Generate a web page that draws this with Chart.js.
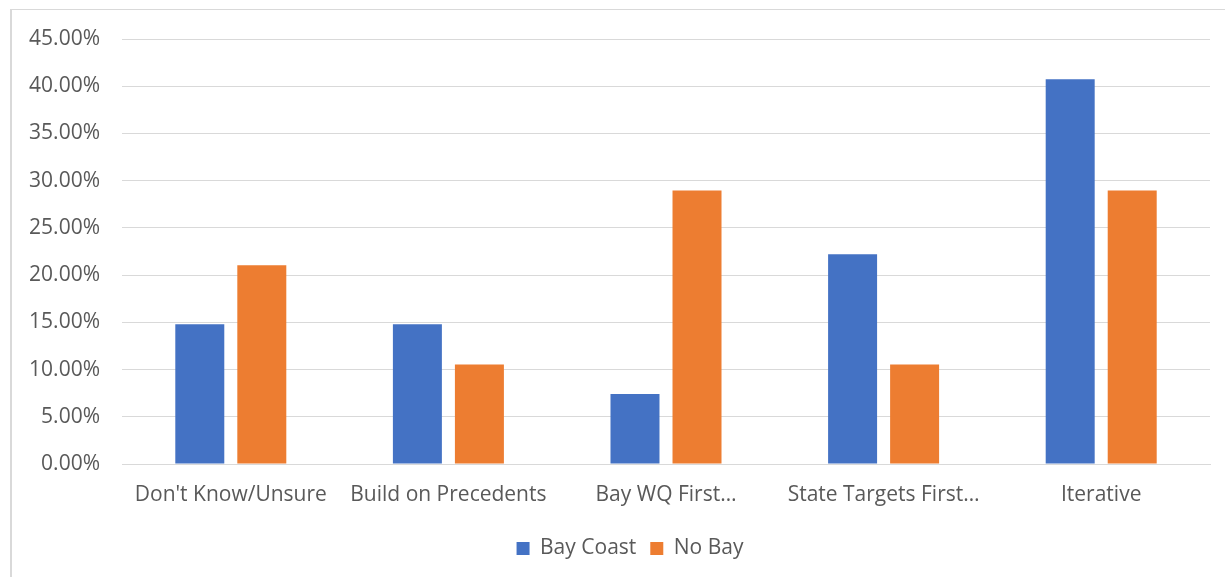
<!DOCTYPE html>
<html>
<head>
<meta charset="utf-8">
<script src="https://cdn.jsdelivr.net/npm/chart.js@4"></script>
<style>
  html, body { margin: 0; padding: 0; background: #fff; overflow: hidden; }
  #frame {
    position: absolute; left: 10px; top: 9px;
    width: 1300px; height: 700px;
    border-left: 2px solid #d9d9d9; border-top: 1px solid #d9d9d9;
  }
  #wrap { position: absolute; left: 10px; top: 10px; width: 1215px; height: 567px; }
</style>
</head>
<body>
<div id="frame"></div>
<div id="wrap"><canvas id="chart"></canvas></div>
<script>
// Categories and series (shares of respondents)
const categories = ["Don't Know/Unsure", 'Build on Precedents', 'Bay WQ First…', 'State Targets First…', 'Iterative'];
const bayCoast = [14.81, 14.81, 7.41, 22.22, 40.74];
const noBay = [21.05, 10.53, 28.95, 10.53, 28.95];
const yMax = 45;
const yStep = 5;

const textColor = '#595959';
const gridColor = '#d9d9d9';
const fontFamily = "'Open Sans', 'Liberation Sans', sans-serif";

// nudge the legend a little to the right of centre
const legendShift = {
  id: 'legendShift',
  afterLayout(chart) {
    const lg = chart.legend;
    if (!lg) return;
    lg.left += 20;
    lg.right += 20;
  }
};

const ctx = document.getElementById('chart').getContext('2d');
new Chart(ctx, {
  type: 'bar',
  data: {
    labels: categories,
    datasets: [
      { label: 'Bay Coast', data: bayCoast, backgroundColor: '#4472c4',
        categoryPercentage: 0.57, barPercentage: 0.79 },
      { label: 'No Bay', data: noBay, backgroundColor: '#ed7d31',
        categoryPercentage: 0.57, barPercentage: 0.79 }
    ]
  },
  plugins: [legendShift],
  options: {
    responsive: true,
    maintainAspectRatio: false,
    animation: false,
    layout: { padding: { top: 29, right: 15, left: 0, bottom: 8 } },
    plugins: {
      legend: {
        position: 'bottom',
        labels: {
          color: textColor,
          font: { family: fontFamily, size: 21 },
          boxWidth: 13, boxHeight: 13,
          padding: 14
        }
      },
      tooltip: { enabled: false }
    },
    scales: {
      x: {
        grid: { display: false, drawTicks: false },
        border: { color: gridColor },
        ticks: {
          color: textColor,
          font: { family: fontFamily, size: 21 },
          maxRotation: 0, autoSkip: false, padding: 18
        },
        afterFit: (scale) => { scale.height = 60; }
      },
      y: {
        min: 0, max: yMax,
        // invisible tick marks keep the labels clear of the plot
        grid: { color: gridColor, drawTicks: true, tickLength: 20, tickColor: 'rgba(0,0,0,0)' },
        border: { display: false },
        ticks: {
          stepSize: yStep,
          color: textColor,
          font: { family: fontFamily, size: 21 },
          padding: 2,
          callback: (v) => v.toFixed(2) + '%'
        },
        afterFit: (scale) => { scale.width = 112; }
      }
    }
  }
});
</script>
</body>
</html>
